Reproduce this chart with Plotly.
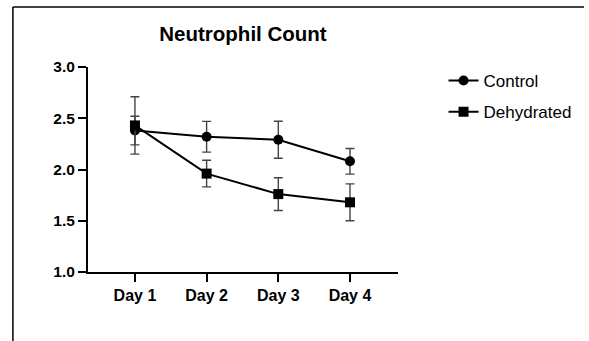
import plotly.graph_objects as go

days = ["Day 1", "Day 2", "Day 3", "Day 4"]
control_mean = [2.38, 2.32, 2.29, 2.08]
control_err = [0.14, 0.15, 0.18, 0.125]
dehydrated_mean = [2.43, 1.96, 1.76, 1.68]
dehydrated_err = [0.28, 0.13, 0.16, 0.18]
y_ticks = [1.0, 1.5, 2.0, 2.5, 3.0]

FONT = "Liberation Sans, Arial, sans-serif"
ERR_COLOR = "#444444"

fig = go.Figure()

fig.add_trace(go.Scatter(
    x=list(range(len(days))), y=control_mean, name="Control", legendgroup="c",
    mode="lines+markers",
    line=dict(color="black", width=2),
    marker=dict(symbol="circle", size=10, color="black"),
    error_y=dict(type="data", array=control_err, visible=True,
                 color=ERR_COLOR, thickness=1.4, width=4.5),
))
fig.add_trace(go.Scatter(
    x=list(range(len(days))), y=dehydrated_mean, name="Dehydrated", legendgroup="d",
    mode="lines+markers",
    line=dict(color="black", width=2),
    marker=dict(symbol="square", size=10, color="black"),
    error_y=dict(type="data", array=dehydrated_err, visible=True,
                 color=ERR_COLOR, thickness=1.4, width=4.5),
))

# page geometry in pixels
W, H = 589, 341
L, R, T, B = 88, 181, 67, 69
pw, ph = W - L - R, H - T - B
def px_x(px):
    return (px - L) / pw
def px_y(py):
    return (H - B - py) / ph

# frame lines along the top and left edges of the page
fig.add_shape(type="line", xref="paper", yref="paper",
              x0=px_x(10.5), x1=px_x(600), y0=px_y(7), y1=px_y(7),
              line=dict(color="black", width=1.5))
fig.add_shape(type="line", xref="paper", yref="paper",
              x0=px_x(10.5), x1=px_x(10.5), y0=px_y(7), y1=px_y(350),
              line=dict(color="black", width=1.5))

fig.update_layout(
    width=W, height=H,
    margin=dict(l=L, r=R, t=T, b=B),
    paper_bgcolor="white", plot_bgcolor="white",
    title=dict(text="<b>Neutrophil Count</b>", x=0.5, xref="paper",
               y=1 - 34 / H, yanchor="middle",
               font=dict(family=FONT, size=20.5, color="black")),
    xaxis=dict(
        tickmode="array", tickvals=list(range(len(days))),
        ticktext=[f"<b>{d}</b>" for d in days],
        range=[-0.655, 3.67], showgrid=False, zeroline=False,
        showline=True, linecolor="black", linewidth=2,
        ticks="outside", ticklen=8, tickwidth=2, tickcolor="black",
        tickfont=dict(family=FONT, size=16, color="black"),
    ),
    yaxis=dict(
        tickmode="array", tickvals=y_ticks,
        ticktext=[f"<b>{v:.1f}</b>" for v in y_ticks],
        range=[1, 3], showgrid=False, zeroline=False,
        showline=True, linecolor="black", linewidth=2,
        ticks="outside", ticklen=8, tickwidth=2, tickcolor="black",
        tickfont=dict(family=FONT, size=15.5, color="black"),
    ),
    legend=dict(x=px_x(455), y=px_y(63), xanchor="left", yanchor="top",
                font=dict(family=FONT, size=17, color="black"),
                itemwidth=30, tracegroupgap=6, bgcolor="rgba(0,0,0,0)"),
    showlegend=True,
)

fig.write_html("out.html")
